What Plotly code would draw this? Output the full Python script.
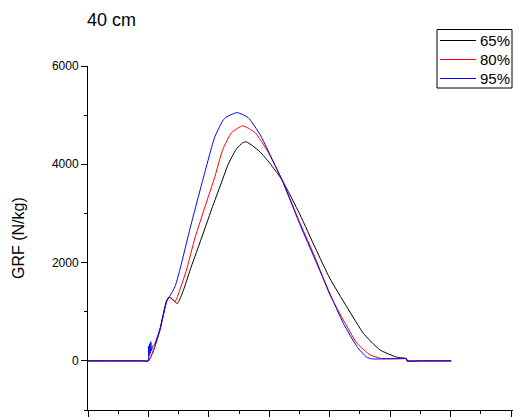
import plotly.graph_objects as go

# Time (s) and ground reaction force for three load conditions at 40 cm drop height
t_65 = [0, 0.03, 0.06, 0.09, 0.100, 0.108, 0.119, 0.130, 0.1345, 0.141, 0.148, 0.158,
        0.169, 0.185, 0.205, 0.220, 0.232, 0.245, 0.256, 0.262, 0.272, 0.285, 0.301,
        0.321, 0.351, 0.376, 0.400, 0.428, 0.4556, 0.483, 0.511, 0.527, 0.528, 0.55,
        0.575, 0.601]
grf_65 = [0, 0, 0, 0, 0, 200, 620, 1200, 1300, 1230, 1170, 1440,
          1850, 2400, 3100, 3600, 4000, 4300, 4440, 4455, 4380, 4250, 4020,
          3683, 2970, 2300, 1683, 1105, 563, 224, 75, 45, 0, 0,
          0, 0]

t_80 = [0, 0.03, 0.06, 0.09, 0.100, 0.108, 0.119, 0.130, 0.1345, 0.139, 0.144, 0.152,
        0.163, 0.177, 0.194, 0.210, 0.223, 0.238, 0.256, 0.276, 0.298, 0.321, 0.351,
        0.376, 0.400, 0.4225, 0.445, 0.4667, 0.486, 0.505, 0.527, 0.528, 0.55, 0.575,
        0.601]
grf_80 = [0, 0, 0, 0, 0, 200, 630, 1206, 1300, 1270, 1206, 1444,
          1851, 2500, 3150, 3750, 4300, 4650, 4781, 4650, 4250, 3683, 2800,
          2100, 1350, 834, 360, 122, 47, 47, 47, 0, 0, 0,
          0]

t_95 = [0, 0.03, 0.06, 0.09, 0.0995, 0.100, 0.101, 0.102, 0.103, 0.104, 0.105, 0.107,
        0.110, 0.119, 0.130, 0.136, 0.144, 0.152, 0.169, 0.190, 0.210, 0.226, 0.247,
        0.265, 0.285, 0.301, 0.321, 0.351, 0.376, 0.400, 0.4225, 0.445, 0.461, 0.4695,
        0.49, 0.51, 0.527, 0.528, 0.55, 0.575, 0.601]
grf_95 = [0, 0, 0, 0, 0, 300, 100, 350, 150, 390, 200, 300,
          330, 650, 1230, 1330, 1511, 1851, 2700, 3683, 4562, 4935, 5052,
          4950, 4600, 4200, 3683, 2767, 2055, 1377, 765, 292, 75, 40,
          40, 40, 40, 0, 0, 0, 0]

series = [("65%", t_65, grf_65, "#000000"),
          ("80%", t_80, grf_80, "#ff0000"),
          ("95%", t_95, grf_95, "#0000ff")]

W, H = 513, 417
L, R, T, B = 88, 0, 66, 7
PW, PH = W - L - R, H - T - B


def px_x(px):
    """pixel column -> paper x (plot-area fraction)"""
    return (px - L) / PW


def px_y(py):
    """pixel row -> paper y (plot-area fraction)"""
    return (H - B - py) / PH


FONT = "Liberation Sans, Arial, sans-serif"

fig = go.Figure()
for name, t, g, color in series:
    fig.add_trace(go.Scatter(x=t, y=g, mode="lines", name=name,
                             line=dict(color=color, width=1, shape="spline",
                                       smoothing=0.5)))

# framed legend box in the top-right corner
shapes = [dict(type="rect", xref="paper", yref="paper",
               x0=px_x(437), x1=px_x(512), y0=px_y(88), y1=px_y(29.5),
               line=dict(color="black", width=1), fillcolor="white", layer="above")]
annotations = []
for i, (name, _, _, color) in enumerate(series):
    row = 40.5 + i * 19
    shapes.append(dict(type="line", xref="paper", yref="paper",
                       x0=px_x(440), x1=px_x(476), y0=px_y(row), y1=px_y(row),
                       line=dict(color=color, width=1), layer="above"))
    annotations.append(dict(text=name, xref="paper", yref="paper",
                            x=px_x(478), y=px_y(row), xanchor="left", yanchor="middle",
                            showarrow=False, font=dict(size=15, family=FONT)))

annotations.append(dict(text="GRF (N/kg)", xref="paper", yref="paper",
                        x=px_x(18), y=0.5, textangle=-90, showarrow=False,
                        xanchor="center", yanchor="middle",
                        font=dict(size=16, family=FONT)))

fig.update_layout(
    width=W, height=H,
    margin=dict(l=L, r=R, t=T, b=B),
    paper_bgcolor="white", plot_bgcolor="white",
    font=dict(family=FONT, color="black"),
    showlegend=False,
    shapes=shapes,
    annotations=annotations,
    title=dict(text="40 cm", x=87 / W, xanchor="left",
               y=1 - 20 / H, yanchor="middle",
               font=dict(size=18, family=FONT)),
)

fig.update_xaxes(range=[0, 0.7033], showgrid=False, zeroline=False,
                 showline=True, linecolor="black", linewidth=1,
                 ticks="outside", tickcolor="black", ticklen=6, dtick=0.1, tick0=0,
                 showticklabels=False,
                 minor=dict(ticks="outside", ticklen=3, dtick=0.05, tick0=0,
                            tickcolor="black", showgrid=False))
fig.update_yaxes(range=[-1000, 6000], showgrid=False, zeroline=False,
                 showline=True, linecolor="black", linewidth=1,
                 ticks="outside", tickcolor="black", ticklen=6,
                 tickvals=[0, 2000, 4000, 6000], ticktext=["0", "2000", "4000", "6000"],
                 tickfont=dict(size=12, family=FONT),
                 minor=dict(ticks="outside", ticklen=3,
                            tickvals=[-1000, 1000, 3000, 5000],
                            tickcolor="black", showgrid=False))

fig.write_html("out.html")
